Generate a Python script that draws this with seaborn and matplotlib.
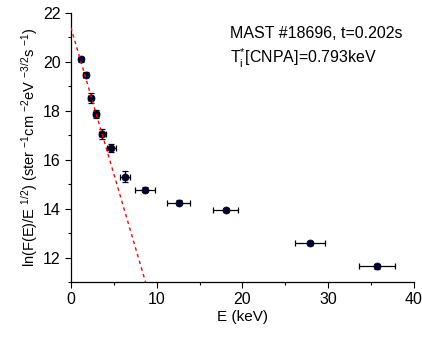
import matplotlib
matplotlib.use("Agg")
import matplotlib.pyplot as plt
import seaborn as sns
import pandas as pd
from matplotlib.ticker import MultipleLocator

# data
energy = [1.17, 1.75, 2.33, 2.92, 3.65, 4.72, 6.34, 8.63, 12.6, 18.08, 27.87, 35.65]
ln_flux = [20.11, 19.47, 18.51, 17.86, 17.06, 16.48, 15.30, 14.78, 14.24, 13.94, 12.58, 11.65]
energy_err = [0.25, 0.3, 0.3, 0.35, 0.4, 0.5, 0.6, 1.2, 1.34, 1.46, 1.75, 2.08]
flux_err = [0.1, 0.1, 0.2, 0.17, 0.2, 0.17, 0.22, 0.12, 0.1, 0.08, 0.08, 0.1]
fit_energy = [0.0, 8.7]
fit_ln_flux = [21.41, 11.0]

sns.set_style("ticks")
plt.rcParams['font.family'] = ['Liberation Sans', 'DejaVu Sans']
plt.rcParams['mathtext.fontset'] = 'custom'
plt.rcParams['mathtext.rm'] = 'Liberation Sans'
plt.rcParams['mathtext.it'] = 'Liberation Sans'
plt.rcParams['text.color'] = 'black'
plt.rcParams['axes.labelcolor'] = 'black'

fig = plt.figure(figsize=(4.22, 3.38), dpi=100)
ax = fig.add_axes([0.168, 0.1657, 0.813, 0.7958])

df = pd.DataFrame({"E": energy, "y": ln_flux})
fit = pd.DataFrame({"E": fit_energy, "y": fit_ln_flux})

ax.errorbar(energy, ln_flux, xerr=energy_err, yerr=flux_err, fmt='none',
            ecolor='black', elinewidth=0.9, capsize=2.5, capthick=0.9, zorder=2)
sns.scatterplot(data=df, x="E", y="y", ax=ax, color='#000028', s=26,
                edgecolor='#000028', linewidth=0.5, zorder=3)
sns.lineplot(data=fit, x="E", y="y", ax=ax, color='red', linestyle=(0, (2.5, 2.5)),
             linewidth=1.0, zorder=4)

ax.set_xlim(0, 40)
ax.set_ylim(11, 22)
ax.xaxis.set_major_locator(MultipleLocator(10))
ax.xaxis.set_minor_locator(MultipleLocator(5))
ax.yaxis.set_major_locator(MultipleLocator(2))
ax.yaxis.set_minor_locator(MultipleLocator(1))
ax.tick_params(which='major', length=4, width=0.8, labelsize=11.5, direction='out', colors='black')
ax.tick_params(which='minor', length=2, width=0.8, direction='out', colors='black')
for s in ['top', 'right']:
    ax.spines[s].set_visible(False)
for s in ['left', 'bottom']:
    ax.spines[s].set_linewidth(0.9)
    ax.spines[s].set_color('black')

ax.set_xlabel("E (keV)", fontsize=11, labelpad=2, color='black')
ax.set_ylabel(r"ln(F(E)/E $^{1/2}$) (ster $^{-1}$cm $^{-2}$eV $^{-3/2}$s $^{-1}$)", fontsize=10.5, labelpad=2, color='black')

ax.text(0.464, 0.922, "MAST #18696, t=0.202s", transform=ax.transAxes, fontsize=11.5, va='center', color='black')
ax.text(0.464, 0.833, r"T$_{\mathregular{i}}^{*}$[CNPA]=0.793keV", transform=ax.transAxes, fontsize=11.5, va='center', color='black')

fig.savefig("out.png", dpi=100)
